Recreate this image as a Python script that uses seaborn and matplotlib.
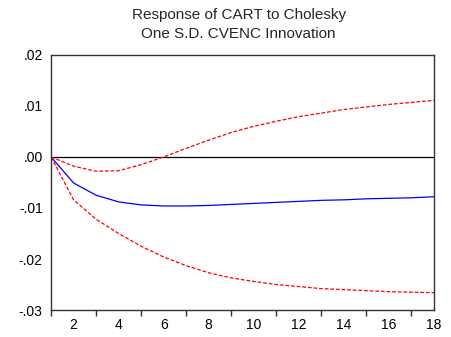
import matplotlib
matplotlib.use("Agg")
import matplotlib.pyplot as plt
from matplotlib.ticker import MultipleLocator, FuncFormatter
import seaborn as sns
import pandas as pd

periods = list(range(1, 19))
response = [0.0, -0.0051, -0.0075, -0.0088, -0.0094, -0.0096, -0.0096, -0.0095,
            -0.0093, -0.0091, -0.0089, -0.0087, -0.0085, -0.0084, -0.0082,
            -0.0081, -0.0080, -0.0078]
upper_band = [0.0, -0.0018, -0.0028, -0.0027, -0.0015, 0.0000, 0.0017, 0.0033,
              0.0048, 0.0060, 0.0070, 0.0079, 0.0086, 0.0093, 0.0098, 0.0103,
              0.0107, 0.0111]
lower_band = [0.0, -0.0084, -0.0122, -0.0150, -0.0175, -0.0196, -0.0213, -0.0227,
              -0.0237, -0.0244, -0.0250, -0.0254, -0.0258, -0.0260, -0.0262,
              -0.0264, -0.0265, -0.0266]

df = pd.DataFrame({"period": periods, "response": response,
                   "upper": upper_band, "lower": lower_band})

sns.set_theme(style="white")
plt.rcParams["font.family"] = ["Liberation Sans", "DejaVu Sans"]

fig = plt.figure(figsize=(4.52, 3.37), dpi=100)
ax = fig.add_axes([0.113, 0.080, 0.847, 0.757])

ax.axhline(0, color="black", lw=0.9, zorder=1)
sns.lineplot(data=df, x="period", y="response", color="blue", lw=0.9, ax=ax)
sns.lineplot(data=df, x="period", y="upper", color="red", lw=0.9,
             linestyle=(0, (3, 1.5)), ax=ax)
sns.lineplot(data=df, x="period", y="lower", color="red", lw=0.9,
             linestyle=(0, (3, 1.5)), ax=ax)

ax.set_xlim(1, 18)
ax.set_ylim(-0.03, 0.02)
ax.xaxis.set_major_locator(MultipleLocator(2))
ax.xaxis.set_minor_locator(MultipleLocator(1))
ax.yaxis.set_major_locator(MultipleLocator(0.01))

def fmt(v, _):
    s = f"{v:.2f}"
    return s.replace("0.", ".")

ax.yaxis.set_major_formatter(FuncFormatter(fmt))
ax.set_xlabel("")
ax.set_ylabel("")

for sp in ax.spines.values():
    sp.set_color("#333333")
    sp.set_linewidth(1.0)

ax.tick_params(axis="both", which="both", direction="out", color="#333333",
               labelsize=10, labelcolor="black", width=1.0)
ax.tick_params(axis="both", which="major", length=4, pad=2)
ax.tick_params(axis="x", which="minor", length=4, bottom=True)

ax.set_title("Response of CART to Cholesky\nOne S.D. CVENC Innovation",
             fontsize=11, linespacing=1.48, pad=12, x=0.49)

fig.savefig("out.png", dpi=100)
